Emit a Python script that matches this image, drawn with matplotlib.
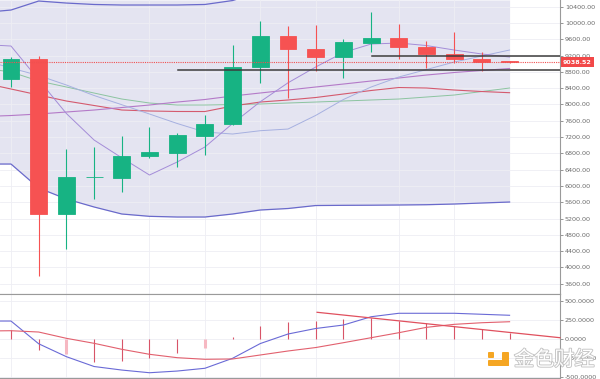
import matplotlib
matplotlib.use('Agg')

import numpy as np
import matplotlib.pyplot as plt
import matplotlib.patheffects as pe
from matplotlib.patches import FancyBboxPatch

# candles (weekly)
opens  = [8625, 9109, 5311, 6210, 6202, 6735, 6816, 7233, 7520, 8927,
          9688, 9362, 9173, 9516, 9639, 9418, 9239, 9116, 9060]
highs  = [9172, 9190, 6906, 6963, 7226, 7454, 7290, 7741, 9460, 10049,
          9934, 9951, 9607, 10277, 9975, 9566, 9779, 9296, 9067]
lows   = [8421, 3796, 4459, 5679, 5858, 6678, 6472, 6759, 7500, 8519,
          8151, 8821, 8642, 9296, 9108, 8903, 9010, 8821, 9010]
closes = [9109, 5311, 6219, 6225, 6742, 6825, 7250, 7520, 8927, 9688,
          9354, 9173, 9526, 9639, 9418, 9246, 9116, 9042, 9038.52]
last_price = 9038.52

# indicator lines, one point before the first candle
line_idx = np.arange(-1, 19)
bb_upper = [10257, 10319, 10540, 10490, 10455, 10442, 10442, 10442, 10455, 10552,
            10760, 10900, 11000, 11050, 11080, 11060, 11030, 10980, 10940, 10900]
bb_lower = [6538, 6538, 5949, 5679, 5483, 5311, 5254, 5237, 5237, 5311,
            5409, 5446, 5519, 5524, 5527, 5532, 5539, 5556, 5581, 5605]
ma_fast  = [9472, 9435, 8605, 7778, 7127, 6690, 6268, 6588, 6956, 7532,
            8068, 8532, 8920, 9276, 9484, 9509, 9447, 9337, 9239, 9165]
ma_blue  = [9090, 8895, 8711, 8478, 8220, 7994, 7766, 7533, 7324, 7275,
            7356, 7397, 7731, 8122, 8429, 8674, 8858, 9042, 9190, 9337]
ma_green = [8895, 8797, 8576, 8429, 8281, 8134, 8036, 7987, 7987, 7999,
            8011, 8036, 8060, 8085, 8110, 8134, 8183, 8232, 8318, 8404]
ma_red   = [8527, 8380, 8232, 8085, 7975, 7864, 7840, 7828, 7827, 7962,
            8060, 8110, 8171, 8257, 8343, 8416, 8404, 8355, 8318, 8289]
ma_purple = [7704, 7729, 7766, 7815, 7864, 7925, 7987, 8060, 8122, 8208,
             8282, 8355, 8429, 8502, 8576, 8650, 8723, 8785, 8834, 8883]

# drawn levels: (price, start index)
levels = [(8846, 6.03), (9190, 13.03)]

# MACD panel
macd   = [234, 234, -62, -230, -358, -404, -439, -417, -381, -251,
          -59, 65, 137, 182, 290, 335, 335, 335, 322, 309]
signal = [104, 108, 91, 9, -56, -134, -199, -243, -264, -260,
          -208, -156, -111, -48, 17, 82, 152, 191, 212, 225]
hist = [117, -143, -195, -295, -280, -243, -178, -113, 30, 169,
        217, 238, 256, 270, 238, 204, 169, 126, 82]
hist_light = [2, 7]
macd_trend_x = [11.05, 19.82]
macd_trend_y = [348, 17]

grid_x = [0, 2, 5, 7, 9, 11, 14, 16]
price_ticks = np.arange(3600, 10401, 400)
macd_ticks = [-500, -250, 0, 250, 500]

W, H = 600, 379
fig = plt.figure(figsize=(6, 3.79), dpi=100)
ax = fig.add_axes([0, 1 - 294 / H, 560 / W, 294 / H])
ax2 = fig.add_axes([0, 1 - 377.5 / H, 560 / W, 83.5 / H])

xlim = (-0.397, 19.82)
up_c, dn_c = '#17b383', '#f65252'
grid_c = '#eeeef4'

# main panel
ax.set_xlim(*xlim)
ax.set_ylim(3347, 10565)
ax.fill_between(line_idx, bb_lower, 10565, color='#e4e4f1', lw=0, zorder=0)
for g in grid_x:
    ax.axvline(g, color=grid_c, lw=0.6, zorder=0.5)
for t in price_ticks:
    ax.axhline(t, color=grid_c, lw=0.6, zorder=0.5)

ax.plot(line_idx, bb_upper, color='#6a6acb', lw=0.9, zorder=2)
ax.plot(line_idx, bb_lower, color='#6a6acb', lw=0.9, zorder=2)
ax.plot(line_idx, ma_green, color='#8cc4a0', lw=0.7, zorder=2)
ax.plot(line_idx, ma_red, color='#d45a6e', lw=0.8, zorder=2)
ax.plot(line_idx, ma_purple, color='#b47ac8', lw=0.8, zorder=2)
ax.plot(line_idx, ma_blue, color='#a6b0e0', lw=0.7, zorder=2)
ax.plot(line_idx, ma_fast, color='#a48cd8', lw=0.7, zorder=2)

for i in range(len(opens)):
    c = up_c if closes[i] >= opens[i] else dn_c
    ax.vlines(i, lows[i], highs[i], color=c, lw=0.8, zorder=3)
    ax.bar(i, closes[i] - opens[i], bottom=opens[i], width=0.61,
           color=c, edgecolor=c, lw=0.6, zorder=4)

ax.axhline(last_price, color='#f05050', lw=0.8, ls=(0, (1, 1)), zorder=5)
for lvl, start in levels:
    ax.plot([start, xlim[1]], [lvl, lvl], color='#3c3c3c', lw=1.1, zorder=5)

ax.yaxis.tick_right()
ax.set_yticks(price_ticks)
ax.set_yticklabels(['%.2f' % t for t in price_ticks])
ax.set_xticks([])
ax.annotate('%.2f' % last_price, xy=(1, last_price), xycoords=('axes fraction', 'data'),
            xytext=(2.2, 0), textcoords='offset points', va='center', ha='left',
            fontsize=4.6, color='white', fontweight='bold',
            bbox=dict(boxstyle='square,pad=0.35', fc='#f24848', ec='none'),
            annotation_clip=False, zorder=10)

# MACD panel
ax2.set_xlim(*xlim)
ax2.set_ylim(-501, 586)
for g in grid_x:
    ax2.axvline(g, color=grid_c, lw=0.6, zorder=0.5)
for t in macd_ticks:
    ax2.axhline(t, color=grid_c, lw=0.6, zorder=0.5)
for i, v in enumerate(hist):
    light = i in hist_light
    ax2.vlines(i, 0, v, color='#f6b8c2' if light else '#d85468',
               lw=2.2 if light else 0.8, zorder=2)
ax2.plot(line_idx, macd, color='#6a6ad6', lw=0.8, zorder=3)
ax2.plot(line_idx, signal, color='#e2606e', lw=0.8, zorder=3)
ax2.plot(macd_trend_x, macd_trend_y, color='#e0505e', lw=0.9, zorder=3, clip_on=False)
ax2.yaxis.tick_right()
ax2.set_yticks(macd_ticks)
ax2.set_yticklabels(['%.4f' % t for t in macd_ticks])
ax2.set_xticks([])

for a in (ax, ax2):
    a.set_facecolor('white')
    a.spines['left'].set_visible(False)
    for s in ('right', 'bottom', 'top'):
        a.spines[s].set_color('#9a9a9a')
        a.spines[s].set_linewidth(0.8)
    a.tick_params(axis='y', labelsize=4.6, colors='#6a6a6a', length=2, width=0.5, pad=1.5)
ax.spines['top'].set_visible(False)

# watermark
def px(x, y):
    return x / W, 1 - y / H

orange = '#f5a623'
for (x0, y0, x1, y1) in [(488, 352, 494, 358), (502, 352, 509, 366), (488, 360, 509, 366)]:
    fx, fy = px(x0, y1)
    fig.add_artist(FancyBboxPatch((fx, fy), (x1 - x0) / W, (y1 - y0) / H,
                                  boxstyle='round,pad=0,rounding_size=0.002',
                                  transform=fig.transFigure, fc=orange, ec='none', zorder=20))
tx, ty = px(514, 360)
fig.text(tx, ty, '金色财经', fontsize=14.5, family=['Noto Sans CJK SC', 'DejaVu Sans'],
         color='white', va='center', ha='left', zorder=21,
         path_effects=[pe.withStroke(linewidth=1.3, foreground='#c4c4c4')])

fig.savefig('out.png', dpi=100, facecolor='white')
